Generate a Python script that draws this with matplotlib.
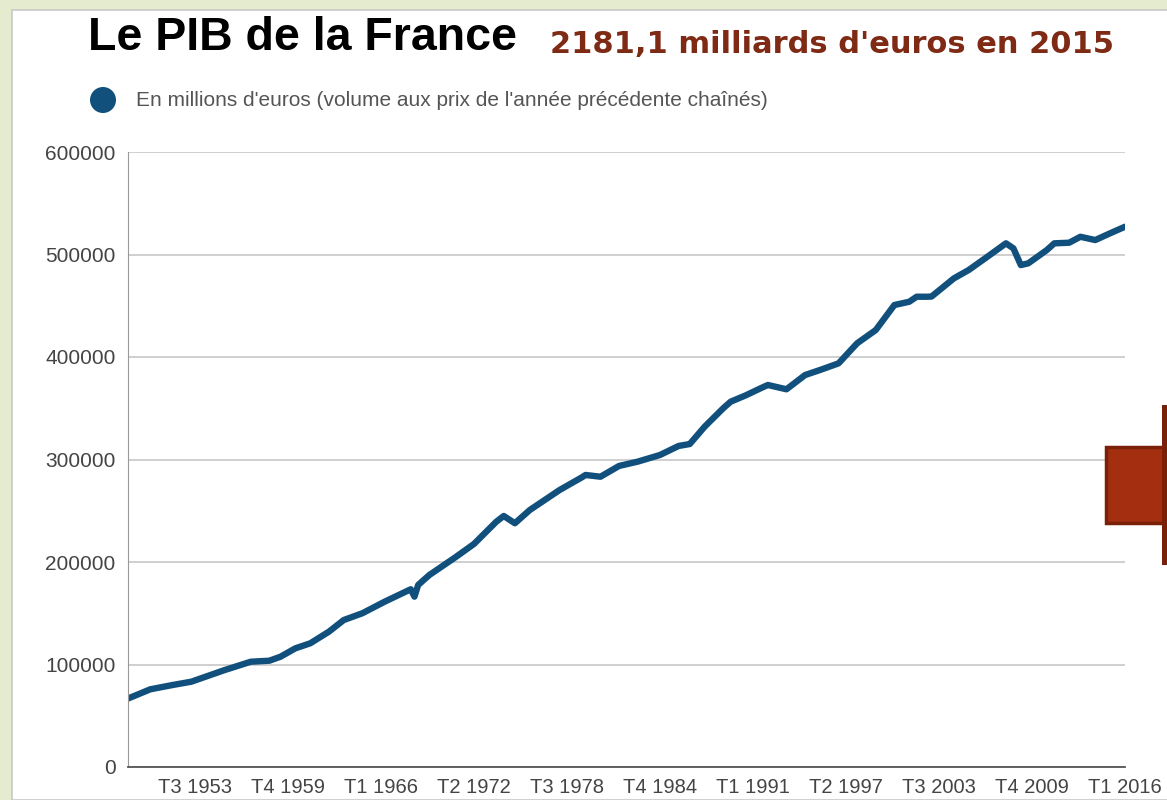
import matplotlib.pyplot as plt
from matplotlib.patches import Rectangle, Ellipse

# PIB trimestriel (millions d'euros)
periods = ['1949T1', '1950T3', '1952T1', '1953T2', '1955T3', '1957T2', '1958T3',
           '1959T2', '1960T2', '1961T2', '1962T3', '1963T3', '1964T4', '1966T2',
           '1968T1', '1968T2', '1968T3', '1969T2', '1971T1', '1972T2', '1973T4',
           '1974T2', '1975T1', '1976T1', '1978T1', '1979T3', '1979T4', '1980T4',
           '1982T1', '1983T2', '1984T4', '1986T1', '1986T4', '1987T4', '1989T1',
           '1989T3', '1990T3', '1991T3', '1992T1', '1993T2', '1994T3', '1995T3',
           '1996T4', '1998T1', '1999T2', '2000T3', '2001T3', '2002T1', '2002T4',
           '2003T1', '2004T3', '2005T3', '2006T4', '2008T1', '2008T3', '2009T1',
           '2009T3', '2010T4', '2011T2', '2012T2', '2013T1', '2014T1', '2015T1',
           '2016T1']
gdp = [66800, 75800, 80000, 83200, 94600, 102700, 103700,
       107600, 115800, 120700, 132000, 143400, 150000, 161300,
       173400, 166200, 177600, 187300, 204600, 217600, 239300,
       244900, 237800, 250700, 270200, 282600, 284900, 283200,
       293700, 297900, 304400, 313200, 315100, 332000, 350000,
       356400, 362500, 369400, 372700, 368500, 382400, 387300,
       393800, 413400, 426300, 450700, 453900, 458800, 458800,
       459000, 476700, 484900, 497800, 510900, 506000, 489700,
       491400, 504400, 510900, 511500, 517300, 514100, 520700,
       527100]
tick_labels = ['T3 1953', 'T4 1959', 'T1 1966', 'T2 1972', 'T3 1978', 'T4 1984',
               'T1 1991', 'T2 1997', 'T3 2003', 'T4 2009', 'T1 2016']
y_ticks = [0, 100000, 200000, 300000, 400000, 500000, 600000]


def quarter_index(label):
    # position de la catégorie trimestrielle, T1 1949 = 0
    if label[0] == 'T':
        q, year = label.split()
        return (int(year) - 1949) * 4 + int(q[1]) - 1
    year, q = label.split('T')
    return (int(year) - 1949) * 4 + int(q) - 1


line_color = '#11507d'
plt.rcParams['font.family'] = ['Liberation Sans', 'DejaVu Sans']

fig = plt.figure(figsize=(11.67, 8), dpi=100)
fig.patch.set_facecolor('#e4ebcf')
fig.patches.append(Rectangle((12 / 1167, 0), 1, 1 - 10 / 800, transform=fig.transFigure,
                             facecolor='white', edgecolor='#c8c8c8', lw=1.2, zorder=-5))

ax = fig.add_axes([128 / 1167, 1 - 767 / 800, (1125 - 128) / 1167, (767 - 152) / 800])
ax.set_facecolor('none')
x = [quarter_index(p) for p in periods]
ax.plot(x, gdp, color=line_color, lw=4.6, solid_capstyle='round', solid_joinstyle='round')

ax.set_xlim(0, 268)
ax.set_ylim(0, 600000)
ax.set_yticks(y_ticks)
ax.set_yticklabels([str(v) for v in y_ticks])
ax.set_xticks([quarter_index(t) for t in tick_labels])
ax.set_xticklabels(tick_labels)
ax.tick_params(length=0, labelsize=14.5, colors='#444444')
ax.tick_params(axis='y', labelsize=15, pad=9)
ax.tick_params(axis='x', pad=8)
ax.grid(axis='y', color='#cccccc', lw=1.3)
ax.set_axisbelow(True)
for s in ['top', 'right']:
    ax.spines[s].set_visible(False)
ax.spines['left'].set_color('#999999')
ax.spines['bottom'].set_color('#555555')
ax.spines['bottom'].set_linewidth(1.3)

fig.text(88 / 1167, 1 - 50 / 800, 'Le PIB de la France', fontsize=33.5, fontweight='bold',
         color='black', va='baseline')
fig.text(550 / 1167, 1 - 53 / 800, "2181,1 milliards d'euros en 2015", fontsize=22,
         fontweight='bold', color='#7f2a14', va='baseline', family=['DejaVu Sans'])

fig.patches.append(Ellipse((103 / 1167, 1 - 100 / 800), 26 / 1167, 26 / 800,
                           transform=fig.transFigure, facecolor=line_color, edgecolor='none'))
fig.text(136 / 1167, 1 - 100 / 800, "En millions d'euros (volume aux prix de l'année précédente chaînés)",
         fontsize=15, color='#555555', va='center')

# forme rouge (flèche) sur le bord droit
fig.patches.append(Rectangle((1106 / 1167, 1 - 523 / 800), 70 / 1167, 76 / 800,
                             transform=fig.transFigure, facecolor='#a32f10',
                             edgecolor='#7a2008', lw=2.5, zorder=5))
fig.patches.append(Rectangle((1162 / 1167, 1 - 565 / 800), 10 / 1167, 160 / 800,
                             transform=fig.transFigure, facecolor='#7a2008',
                             edgecolor='none', zorder=6))

fig.savefig('out.png', dpi=100)
